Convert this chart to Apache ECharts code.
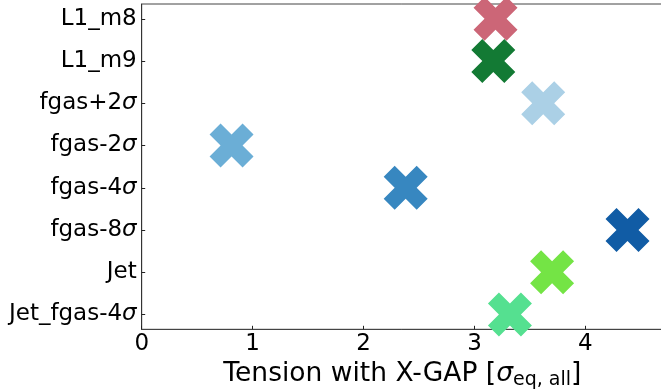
<!DOCTYPE html>
<html>
<head>
<meta charset="utf-8">
<script src="https://cdn.jsdelivr.net/npm/echarts@6/dist/echarts.min.js"></script>
<style>
  html, body { margin: 0; padding: 0; background: #fff; }
  #chart { width: 661px; height: 392px; }
</style>
</head>
<body>
<div id="chart"></div>
<script>
// Runs compared against X-GAP, listed top to bottom
const runNames = ['L1_m8', 'L1_m9', 'fgas+2σ', 'fgas-2σ', 'fgas-4σ', 'fgas-8σ', 'Jet', 'Jet_fgas-4σ'];
// Tension in units of sigma_eq,all
const tensionValues = [3.19, 3.17, 3.62, 0.81, 2.38, 4.38, 3.70, 3.32];
const markerColors = ['#cc6677', '#137a34', '#abd0e6', '#6baed6', '#3787c0', '#115ca5', '#74e445', '#55e090'];
const xTicks = [0, 1, 2, 3, 4];

const FONT = 'DejaVu Sans';
// filled "X" marker (rotated filled plus)
const crossPath = 'path://M3,0L4,1L3,2L4,3L3,4L2,3L1,4L0,3L1,2L0,1L1,0L2,1Z';

const points = runNames.map((name, i) => ({
  value: [tensionValues[i], i],
  itemStyle: { color: markerColors[i], opacity: 1 }
}));

const chart = echarts.init(document.getElementById('chart'), null, { renderer: 'canvas' });
chart.setOption({
  animation: false,
  grid: {
    left: 141.7, top: 4, right: -2, bottom: 62.7,
    outerBoundsMode: 'none',
    containLabel: false,
    show: true, borderColor: '#444', borderWidth: 1, backgroundColor: 'transparent'
  },
  xAxis: {
    type: 'value',
    min: 0, max: 4.70, interval: 1,
    splitLine: { show: false },
    axisLine: { show: true, onZero: false, lineStyle: { color: '#444', width: 1 } },
    axisTick: { show: true, inside: true, length: 3.5, lineStyle: { color: '#222' }, customValues: xTicks },
    axisLabel: {
      customValues: xTicks,
      fontFamily: FONT, fontSize: 23, color: '#000', margin: 3
    },
    name: 'Tension with X-GAP [{s|σ}{sub|eq, all}]',
    nameLocation: 'middle',
    nameGap: 24,
    nameTextStyle: {
      fontFamily: FONT, fontSize: 26.5, color: '#000',
      rich: {
        s: { fontFamily: FONT, fontSize: 26.5, fontStyle: 'italic', color: '#000' },
        sub: { fontFamily: FONT, fontSize: 19, color: '#000', padding: [12, 0, 0, 0] }
      }
    }
  },
  yAxis: {
    type: 'value',
    inverse: true,
    min: -0.35, max: 7.35,
    splitLine: { show: false },
    axisLine: { show: true, onZero: false, lineStyle: { color: '#333', width: 1 } },
    axisTick: { show: true, inside: true, length: 3.5, lineStyle: { color: '#222' }, customValues: runNames.map((_, i) => i) },
    axisLabel: {
      customValues: runNames.map((_, i) => i),
      fontFamily: FONT, fontSize: 23, color: '#000', margin: 5,
      formatter: (v) => (runNames[Math.round(v)] || '').replace('σ', '{s|σ}'),
      rich: {
        s: { fontFamily: FONT, fontSize: 23, fontStyle: 'italic', color: '#000' }
      }
    }
  },
  series: [{
    type: 'scatter',
    clip: true,
    symbol: crossPath,
    symbolSize: [44, 44],
    itemStyle: { opacity: 1 },
    data: points
  }]
});
</script>
</body>
</html>
